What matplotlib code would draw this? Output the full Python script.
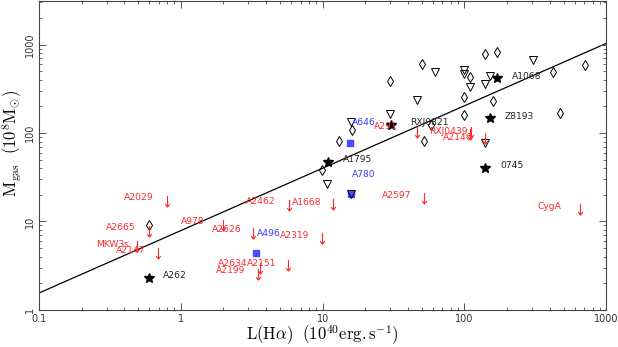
import matplotlib as mpl
import matplotlib.pyplot as plt
import numpy as np
from matplotlib.path import Path
from matplotlib.ticker import FixedLocator, LogLocator, NullFormatter

# L(Halpha) in 1e40 erg/s, M_gas in 1e8 Msun
diamond_x = [50.4, 29.9, 16.0, 13.0, 52.0, 58.0, 9.97, 110, 100, 100, 140, 171, 160, 423, 703, 474, 0.594]
diamond_y = [601, 382, 109, 81.5, 80.4, 122, 38.6, 431, 255, 158, 783, 832, 227, 491, 589, 168, 9.02]

tri_x = [62.2, 46.2, 29.9, 15.9, 100, 100, 110, 151, 140, 302, 10.8, 15.9, 140]
tri_y = [495, 233, 164, 133, 517, 466, 329, 438, 356, 676, 26.8, 20.2, 77.3]

star_x = [30.3, 171, 151, 140, 10.9, 0.594]
star_y = [124, 413, 146, 40.4, 46.6, 2.28]

square_x = [15.6, 15.9, 3.40]
square_y = [77.8, 20.2, 4.36]

# upper limits (arrow centres)
limit_x = [0.797, 0.594, 0.493, 0.695, 2.0, 3.25, 5.78, 11.8, 9.97, 3.49, 3.62, 5.72, 52.0, 656, 46.0, 110.7, 109, 140]
limit_y = [17.2, 7.78, 5.27, 4.34, 9.2, 7.48, 15.3, 15.7, 6.57, 2.55, 3.0, 3.2, 18.2, 13.9, 103, 101.6, 97, 86.9]

fit_x = [0.1, 1000]
fit_y = [1.55, 1030]

red_names = ["A2029", "A2665", "MKW3s", "A2147", "A978", "A2626", "A2462", "A1668", "A2319",
             "A2634", "A2151", "A2199", "A2597", "CygA", "A291", "RXJ0439", "A2146"]
red_x = [0.398, 0.297, 0.252, 0.349, 1.0, 1.65, 2.89, 6.06, 5.01, 1.83, 2.92, 1.76, 26.2, 330, 23.1, 56.4, 70.8]
red_y = [18.5, 8.47, 5.55, 4.63, 9.9, 8.13, 16.6, 16.4, 7.01, 3.36, 3.36, 2.79, 19.8, 14.6, 117, 104, 89.9]

blue_names = ["A646", "A780", "A496"]
blue_x = [16.1, 16.1, 3.43]
blue_y = [133, 33.9, 7.32]

black_names = ["A1795", "RXJ0821", "A1068", "Z8193", "0745", "A262"]
black_x = [14.0, 41.4, 216, 191, 179, 0.75]
black_y = [50.4, 133, 435, 155, 43.1, 2.44]

mpl.rcParams.update({
    "font.family": "DejaVu Sans",
    "mathtext.fontset": "cm",
    "xtick.direction": "in",
    "ytick.direction": "in",
    "xtick.labelsize": 7,
    "ytick.labelsize": 7,
    "axes.linewidth": 0.8,
})

red = "#ff2a2a"
blue = "#3a3aff"
grey = "#555555"

down_arrow = Path(
    [(0, 1), (0, -1), (-0.42, -0.45), (0, -1), (0.42, -0.45)],
    [Path.MOVETO, Path.LINETO, Path.MOVETO, Path.LINETO, Path.LINETO],
)

fig = plt.figure(figsize=(6.18, 3.47), dpi=100)
ax = fig.add_axes([0.063, 0.107, 0.918, 0.89])

ax.plot(fit_x, fit_y, color="black", lw=0.9, zorder=1)

ax.plot(diamond_x, diamond_y, ls="none", marker="d", ms=5.5, mfc="none", mec="black", mew=0.7, zorder=3)
ax.plot(tri_x, tri_y, ls="none", marker="v", ms=5.5, mfc="none", mec="black", mew=0.7, zorder=4)
ax.plot(square_x, square_y, ls="none", marker="s", ms=4.5, mfc="#4a4aff", mec="#4a4aff", zorder=2)
ax.plot(star_x, star_y, ls="none", marker="*", ms=7.5, color="black", zorder=4)
ax.plot(limit_x, limit_y, ls="none", marker=down_arrow, ms=8, mfc="none", mec=red, mew=0.8, zorder=5)

for names, xs, ys, col in [(red_names, red_x, red_y, red),
                           (blue_names, blue_x, blue_y, blue),
                           (black_names, black_x, black_y, "#222222")]:
    for name, x, y in zip(names, xs, ys):
        ax.text(x, y, name, color=col, fontsize=6.6, ha="left", va="center", zorder=6)

ax.set_xscale("log")
ax.set_yscale("log")
ax.set_xlim(0.1, 1000)
ax.set_ylim(1, 3100)

ax.xaxis.set_major_locator(FixedLocator([0.1, 1, 10, 100, 1000]))
ax.set_xticklabels(["0.1", "1", "10", "100", "1000"])
ax.yaxis.set_major_locator(FixedLocator([1, 10, 100, 1000]))
ax.set_yticklabels(["1", "10", "100", "1000"], rotation=90, va="center")
for axis in (ax.xaxis, ax.yaxis):
    axis.set_minor_locator(LogLocator(base=10, subs=np.arange(2, 10) * 0.1))
    axis.set_minor_formatter(NullFormatter())

ax.tick_params(which="both", top=True, right=True, colors=grey, labelcolor="#333333")
ax.tick_params(which="major", length=5, width=0.7, pad=3)
ax.tick_params(which="minor", length=2.5, width=0.6)
for s in ax.spines.values():
    s.set_color("#444444")

ax.set_xlabel(r"$\mathrm{L(H\alpha)}\ \ (10^{40}\mathrm{erg.s}^{-1})$", fontsize=12)
ax.set_ylabel(r"$\mathrm{M_{gas}}\ \ (10^{8}\mathrm{M}_{\odot})$", fontsize=12)
ax.xaxis.set_label_coords(0.5, -0.045, transform=ax.transAxes)
ax.xaxis.label.set_va("top")
ax.yaxis.set_label_coords(-0.047, 0.54, transform=ax.transAxes)
ax.yaxis.label.set_va("center")

fig.savefig("out.png", dpi=100)
